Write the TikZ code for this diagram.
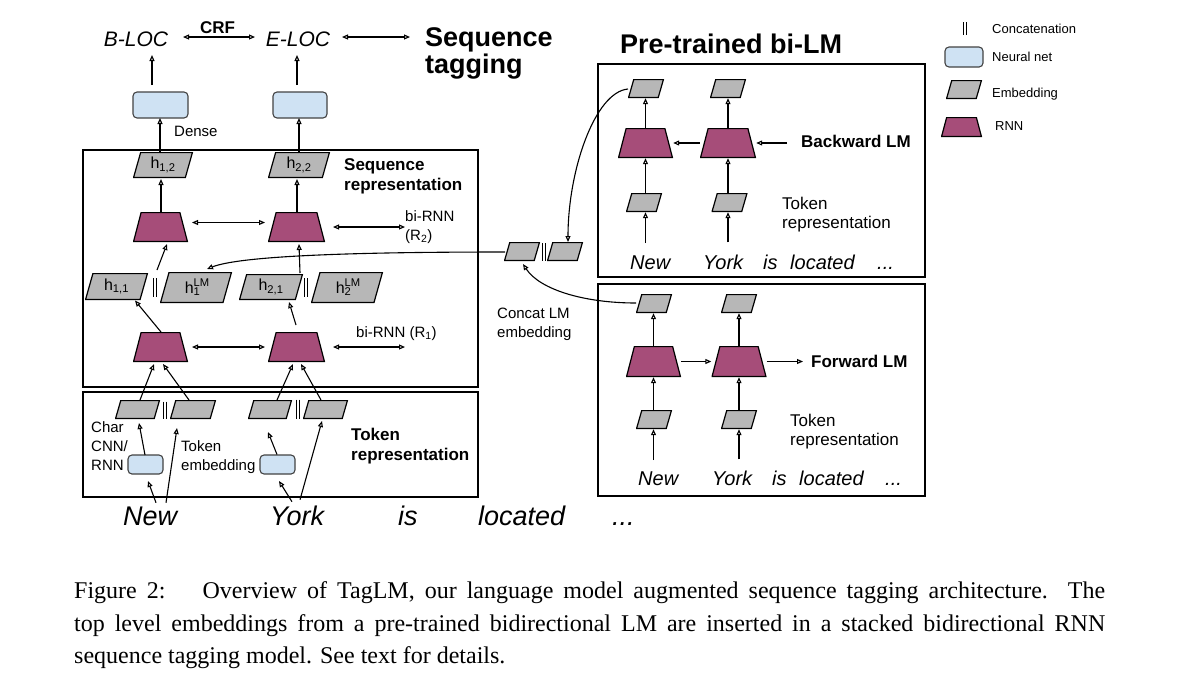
\documentclass[tikz,border=0pt]{standalone}
\usepackage{fontspec}
\setmainfont{Liberation Sans}
\newfontfamily\capfont{Liberation Serif}
\usetikzlibrary{arrows.meta,calc}
\definecolor{rnnc}{HTML}{A64D79}
\definecolor{embc}{HTML}{B7B7B7}
\definecolor{nnc}{HTML}{CFE2F3}
\definecolor{nnd}{HTML}{434343}
\newcommand{\myfs}[2]{\fontsize{#1}{#2}\selectfont}
\begin{document}
\begin{tikzpicture}[x=1pt,y=-1pt,
  arr/.style={-{Triangle[open,length=6pt,width=5pt]}, line width=1.1pt},
  darr/.style={{Triangle[open,length=6pt,width=5pt]}-{Triangle[open,length=6pt,width=5pt]}, line width=1.1pt},
  rnn/.style 2 args={rectangle, inner sep=0pt, minimum width=#1pt, minimum height=#2pt,
    path picture={\filldraw[fill=rnnc, draw=black, line width=1.2pt]
      ($(path picture bounding box.south west)+(0.6,-0.6)$) --
      ($(path picture bounding box.south east)+(-0.6,-0.6)$) --
      ($(path picture bounding box.north east)+({-0.25*#2-0.6},0.6)$) --
      ($(path picture bounding box.north west)+({0.25*#2+0.6},0.6)$) -- cycle;}},
  emb/.style 2 args={rectangle, inner sep=0pt, minimum width=#1pt, minimum height=#2pt, font=\myfs{16}{16},
    path picture={\filldraw[fill=embc, draw=black, line width=1.2pt]
      ($(path picture bounding box.south west)+(0.6,-0.6)$) --
      ($(path picture bounding box.south east)+({-0.27*#2-0.6},-0.6)$) --
      ($(path picture bounding box.north east)+(-0.6,0.6)$) --
      ($(path picture bounding box.north west)+({0.27*#2+0.6},0.6)$) -- cycle;}},
  nn/.style={draw=nnd, fill=nnc, rounded corners=4pt, line width=1.1pt, inner sep=0pt},
  cat/.style={inner sep=0pt, minimum width=6pt, path picture={\draw[line width=0.9pt] ($(path picture bounding box.north)+(-1.5,0)$) -- ($(path picture bounding box.south)+(-1.5,0)$) ($(path picture bounding box.north)+(1.5,0)$) -- ($(path picture bounding box.south)+(1.5,0)$);}},
  frame/.style={draw, line width=1.2pt},
  lab/.style={inner sep=0pt}]
\fill[white] (0,0) rectangle (1200,681);
\useasboundingbox (0,0) rectangle (1200,681);

% ---------- top row
\node[lab, font=\myfs{21}{21}\itshape, anchor=base] (bloc) at (136,46) {B-LOC};
\node[lab, font=\myfs{21}{21}\itshape, anchor=base] (eloc) at (298,46) {E-LOC};
\node[lab, font=\myfs{17}{17}\bfseries, anchor=base] (crf) at (217.5,33) {CRF};
\node[lab, font=\myfs{27}{27}\bfseries, anchor=base west, align=left] (seqtag) at (425,73) {Sequence\\tagging};
\draw[darr] ($(bloc.base)+(47,-9)$) -- ($(eloc.base)+(-43,-9)$);
\draw[darr] ($(eloc.base)+(44,-9)$) -- ($(seqtag.west |- eloc.base)+(-15,-9)$);

% ---------- dense
\node[nn, minimum width=55pt, minimum height=26pt] (dense1) at (160.5,105) {};
\node[nn, minimum width=54pt, minimum height=26pt] (dense2) at (300,105) {};
\node[lab, font=\myfs{15}{15}, anchor=base west] (denselab) at (174,136) {Dense};
\draw[arr] ($(dense1)+(-8.5,-20)$) -- ($(bloc.base)+(16,9)$);
\draw[arr] ($(dense2)+(-3,-20)$) -- ($(eloc.base)+(-1,9)$);

% ---------- frames
\draw[frame] (83,150) rectangle (478,387);
\draw[frame] (83,392) rectangle (478,497);
\draw[frame] (598,64) rectangle (925,277);
\draw[frame] (598,284) rectangle (925,496);

% ---------- sequence representation
\node[emb={60}{26}] (h12) at (163,165) {h\textsubscript{1,2}};
\node[emb={62}{26}] (h22) at (299,165) {h\textsubscript{2,2}};
\draw[arr] ($(h12)+(-3,-13)$) -- ($(dense1)+(-0.5,13)$);
\draw[arr] ($(h22)+(0,-13)$) -- ($(dense2)+(-1,13)$);
\node[lab, font=\myfs{17}{20}\bfseries, anchor=base west, align=left] (seqrep) at (344,190) {Sequence\\representation};

\node[rnn={55}{30}] (r2l) at (160.5,227) {};
\node[rnn={57}{30}] (r2r) at (296.5,227) {};
\draw[arr] ($(r2l)+(0.5,-15)$) -- ($(h12)+(-2,14)$);
\draw[arr] ($(r2r)+(0.5,-15)$) -- ($(h22)+(-2,14)$);
\draw[darr] ($(r2l)+(31.5,-4.5)$) -- ($(r2r)+(-31.5,-4.5)$);
\coordinate (r2end) at (405,227);
\draw[darr] ($(r2r)+(36.5,0)$) -- (r2end);
\node[lab, font=\myfs{15}{19}, anchor=base west, align=left] (birnn2) at (405,240) {bi-RNN\\(R\textsubscript{2})};

\node[emb={63}{27}] (h11) at (116.5,286.5) {h\textsubscript{1,1}};
\node[emb={72}{31}] (h1lm) at (196,287.5) {h\rlap{\textsuperscript{LM}}\textsubscript{1}\hphantom{\textsuperscript{L}}};
\node[emb={64}{26}] (h21) at (271,287) {h\textsubscript{2,1}};
\node[emb={72}{31}] (h2lm) at (347,287.5) {h\rlap{\textsuperscript{LM}}\textsubscript{2}\hphantom{\textsuperscript{L}}};
\node[cat, minimum height=19pt] (cat1) at (154.5,287.5) {};
\node[cat, minimum height=19pt] (cat2) at (305.5,287.5) {};

\node[rnn={55}{30}] (r1l) at (160.5,347) {};
\node[rnn={57}{30}] (r1r) at (296.5,347) {};
\draw[arr] ($(r1l)+(0.5,-15)$) -- ($(h11)+(18.5,14)$);
\draw[arr] ($(cat1)+(2.5,-17.5)$) -- ($(r2l)+(6.5,17)$);
\draw[arr] ($(r1r)+(-0.5,-22)$) -- ($(h21)+(18,15)$);
\draw[arr] ($(h21)+(29,-14)$) -- ($(r2r)+(2.5,17)$);
\draw[darr] ($(r1l)+(31.5,0)$) -- ($(r1r)+(-31.5,0)$);
\coordinate (r1end) at (405,347);
\draw[darr] ($(r1r)+(36.5,0)$) -- (r1end);
\node[lab, font=\myfs{15}{19}, anchor=base west] (birnn1) at (356,337) {bi-RNN (R\textsubscript{1})};

% ---------- token representation
\node[emb={45}{19}] (t1) at (137.5,409.5) {};
\node[emb={46}{19}] (t2) at (193,409.5) {};
\node[emb={44}{19}] (t3) at (270,409.5) {};
\node[emb={45}{19}] (t4) at (325.5,409.5) {};
\node[cat, minimum height=17pt] (cat3) at (165,410) {};
\node[cat, minimum height=19pt] (cat4) at (297.5,409) {};
\node[nn, minimum width=35pt, minimum height=19pt] (c1) at (145.5,464.5) {};
\node[nn, minimum width=35pt, minimum height=19pt] (c2) at (277.5,464.5) {};
\node[lab, font=\myfs{15}{19}, anchor=base west, align=left] (charlab) at (91,470) {Char\\CNN/\\RNN};
\node[lab, font=\myfs{15}{19}, anchor=base west, align=left] (toklab) at (181,470) {Token\\embedding};
\node[lab, font=\myfs{17}{20}\bfseries, anchor=base west, align=left] (tokrep) at (351,460) {Token\\representation};

\node[lab, font=\myfs{27}{27}\itshape, anchor=base west] (w1) at (123,525) {New};
\node[lab, font=\myfs{27}{27}\itshape, anchor=base west] (w2) at (270,525) {York};
\node[lab, font=\myfs{27}{27}\itshape, anchor=base west] (w3) at (398,525) {is};
\node[lab, font=\myfs{27}{27}\itshape, anchor=base west] (w4) at (478,525) {located};
\node[lab, font=\myfs{27}{27}\itshape, anchor=base west] (w5) at (612,525) {...};

\draw[arr] ($(w1.north west)+(33,-3.5)$) -- ($(c1)+(2.5,16.5)$);
\draw[arr] ($(w1.north west)+(43,-3.5)$) -- ($(t2)+(-16,18.5)$);
\draw[arr] ($(c1)+(-0.5,-9.5)$) -- ($(t1)+(1.5,13.5)$);
\draw[arr] ($(w2.north west)+(22,-3.5)$) -- ($(c2)+(1.5,16.5)$);
\draw[arr] ($(c2)+(-0.5,-10)$) -- ($(t3)+(-2,22.5)$);
\draw[arr] ($(w2.north west)+(30,-5.5)$) -- ($(t4)+(-3.5,11.5)$);
\draw[arr] ($(t1)+(2.5,-9.5)$) -- ($(r1l)+(-6.5,17)$);
\draw[arr] ($(t2)+(-4,-9.5)$) -- ($(r1l)+(2.5,17)$);
\draw[arr] ($(t3)+(7,-9.5)$) -- ($(r1r)+(-3.5,17)$);
\draw[arr] ($(t4)+(-4.5,-9.5)$) -- ($(r1r)+(4.5,17)$);

% ---------- concat LM embedding
\node[emb={36}{19}] (cl1) at (522,251.5) {};
\node[emb={36}{19}] (cl2) at (565,251.5) {};
\node[cat, minimum height=18pt] (cat5) at (543.5,252) {};
\node[lab, font=\myfs{15}{19}, anchor=base west, align=left] (conclab) at (497,337) {Concat LM\\embedding};

% ---------- backward LM
\node[lab, font=\myfs{27}{27}\bfseries, anchor=base west] (bilm) at (620,53) {Pre-trained bi-LM};
\node[emb={36}{19}] (bt1) at (646,88.5) {};
\node[emb={36}{19}] (bt2) at (728,88.5) {};
\node[rnn={55}{30}] (br1) at (645.5,143) {};
\node[rnn={56}{30}] (br2) at (728,143) {};
\node[emb={36}{19}] (be1) at (644,202.5) {};
\node[emb={36}{19}] (be2) at (729.5,202.5) {};
\node[lab, font=\myfs{17}{17}\bfseries, anchor=base west] (blm) at (801,147) {Backward LM};
\node[lab, font=\myfs{17}{19}, anchor=base west, align=left] (btok) at (782,228) {Token\\representation};
\node[lab, font=\myfs{20}{20}\itshape, anchor=base west] (bw1) at (630,269) {New};
\node[lab, font=\myfs{20}{20}\itshape, anchor=base west] (bw2) at (703,269) {York};
\node[lab, font=\myfs{20}{20}\itshape, anchor=base west] (bw3) at (763,269) {is};
\node[lab, font=\myfs{20}{20}\itshape, anchor=base west] (bw4) at (790,269) {located};
\node[lab, font=\myfs{20}{20}\itshape, anchor=base west] (bw5) at (877,269) {...};
\draw[arr] (br1.north) -- (br1.north |- bt1.south);
\draw[arr] (br2.north) -- (br2.north |- bt2.south);
\draw[arr] (br1.south |- be1.north) -- (br1.south);
\draw[arr] (br2.south |- be2.north) -- (br2.south);
\draw[arr] ($(br1.south |- bw1.north)+(0,-12)$) -- (br1.south |- be1.south);
\draw[arr] ($(br2.south |- bw2.north)+(0,-12)$) -- (br2.south |- be2.south);
\draw[arr] (br2.west) -- (br1.east);
\draw[arr] ($(blm.west |- br2.east)+(-14,0)$) -- (br2.east);

% ---------- forward LM
\node[emb={36}{19}] (ft1) at (654,303.5) {};
\node[emb={36}{19}] (ft2) at (739,303.5) {};
\node[rnn={55}{31}] (fr1) at (653.5,361.5) {};
\node[rnn={55}{31}] (fr2) at (739,361.5) {};
\node[emb={36}{19}] (fe1) at (654,419.5) {};
\node[emb={36}{19}] (fe2) at (739,419.5) {};
\node[lab, font=\myfs{17}{17}\bfseries, anchor=base west] (flm) at (811,367) {Forward LM};
\node[lab, font=\myfs{17}{19}, anchor=base west, align=left] (ftok) at (790,445) {Token\\representation};
\node[lab, font=\myfs{20}{20}\itshape, anchor=base west] (fw1) at (638,485) {New};
\node[lab, font=\myfs{20}{20}\itshape, anchor=base west] (fw2) at (712,485) {York};
\node[lab, font=\myfs{20}{20}\itshape, anchor=base west] (fw3) at (772,485) {is};
\node[lab, font=\myfs{20}{20}\itshape, anchor=base west] (fw4) at (799,485) {located};
\node[lab, font=\myfs{20}{20}\itshape, anchor=base west] (fw5) at (885,485) {...};
\draw[arr] (fr1.north) -- (fr1.north |- ft1.south);
\draw[arr] (fr2.north) -- (fr2.north |- ft2.south);
\draw[arr] (fr1.south |- fe1.north) -- (fr1.south);
\draw[arr] (fr2.south |- fe2.north) -- (fr2.south);
\draw[arr] ($(fr1.south |- fw1.north)+(0,-11)$) -- (fr1.south |- fe1.south);
\draw[arr] ($(fr2.south |- fw2.north)+(0,-11)$) -- (fr2.south |- fe2.south);
\draw[arr] (fr1.east) -- (fr2.west);
\draw[arr] (fr2.east) -- ($(flm.west |- fr2.east)+(-8,0)$);

% ---------- LM embedding connectors
\draw[arr] ($(cl1)+(-17,0.5)$) .. controls (350,252) and (240,256) .. ($(h1lm)+(11,-18.5)$);
\draw[arr] ($(bt1)+(-18,0.5)$) .. controls (595,92) and (568,170) .. ($(cl2)+(3,-9.5)$);
\draw[arr] ($(ft1)+(-18,-0.5)$) .. controls (585,303) and (540,290) .. ($(cl1)+(1,12.5)$);

% ---------- legend
\node[cat, minimum height=13pt] (legcat) at (965,28.5) {};
\node[lab, font=\myfs{13}{13}, anchor=base west] (legcatl) at (992,33) {Concatenation};
\node[nn, minimum width=38pt, minimum height=20pt] (legnn) at (964,57) {};
\node[lab, font=\myfs{13}{13}, anchor=base west] (legnnl) at (992,61) {Neural net};
\node[emb={36}{19}] (legemb) at (964,89.5) {};
\node[lab, font=\myfs{13}{13}, anchor=base west] (legembl) at (992,97) {Embedding};
\node[rnn={41}{20}] (legrnn) at (961.5,127) {};
\node[lab, font=\myfs{13}{13}, anchor=base west] (legrnnl) at (995,130) {RNN};

% ---------- caption
\node[anchor=north west, inner sep=0pt, text width=1031pt, align=justify, font=\capfont\myfs{24}{32.5}] (cap) at (74,581.5)
{\noindent Figure 2:\hspace*{37pt}Overview of TagLM, our language model augmented sequence tagging architecture.  The\linebreak top level embeddings from a pre-trained bidirectional LM are inserted in a stacked bidirectional RNN\linebreak sequence tagging model. See text for details.};
\end{tikzpicture}
\end{document}
